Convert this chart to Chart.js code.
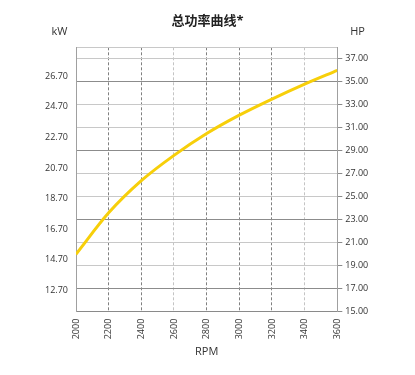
<!DOCTYPE html>
<html>
<head>
<meta charset="utf-8">
<script src="https://cdn.jsdelivr.net/npm/chart.js@4"></script>
<style>
  body { margin: 0; background: #fff; }
</style>
</head>
<body>
<canvas id="potencia" width="415" height="375"></canvas>
<script>
// dados da curva de potência
var rpm = [2000, 2200, 2400, 2600, 2800, 3000, 3200, 3400, 3600];
var hp = [20.0, 23.6, 26.4, 28.6, 30.5, 32.1, 33.5, 34.8, 36.0];
var hpTicks = [15, 17, 19, 21, 23, 25, 27, 29, 31, 33, 35, 37];
var kwTicks = [12.7, 14.7, 16.7, 18.7, 20.7, 22.7, 24.7, 26.7];

var fonte = "'Open Sans', 'Noto Sans', 'Noto Sans CJK SC', sans-serif";

// rótulos kW / HP acima dos eixos
var unidades = {
  id: 'unidades',
  afterDraw: function (chart) {
    var c = chart.ctx;
    c.save();
    c.font = '11px ' + fonte;
    c.fillStyle = '#333';
    c.textAlign = 'center';
    c.textBaseline = 'middle';
    c.fillText('kW', 59.5, 32);
    c.fillText('HP', 357.5, 32);
    c.restore();
  }
};

var ctx = potencia.getContext('2d');

var grafico = new Chart(ctx, {
  type: 'line',
  data: {
    datasets: [{
      label: 'HP',
      data: rpm.map(function (r, i) { return { x: r, y: hp[i] }; }),
      yAxisID: 'hp',
      borderColor: '#f7cf0a',
      borderWidth: 3,
      pointRadius: 0,
      cubicInterpolationMode: 'monotone',
      fill: false
    }]
  },
  options: {
    responsive: false,
    animation: false,
    layout: { padding: 0 },
    plugins: {
      legend: { display: false },
      tooltip: { enabled: false },
      title: {
        display: true,
        text: '总功率曲线*',
        color: '#222',
        font: { size: 13, weight: 'bold', family: fonte },
        padding: { top: 13.2, bottom: 18.5 }
      }
    },
    scales: {
      x: {
        type: 'linear',
        min: 2000,
        max: 3600,
        ticks: {
          stepSize: 200,
          minRotation: 90,
          maxRotation: 90,
          padding: 7,
          color: '#333',
          font: { size: 9, family: fonte },
          callback: function (v) { return String(v); }
        },
        grid: {
          drawTicks: false,
          color: function (c) {
            var v = c.tick ? c.tick.value : 0;
            if (v === 2000 || v === 3600) return 'rgba(0,0,0,0)';
            if (v === 2600 || v === 3400) return '#c4c4c4';
            return '#808080';
          }
        },
        border: { color: '#8a8a8a', dash: [3, 2], display: true },
        title: {
          display: true,
          text: 'RPM',
          color: '#333',
          font: { size: 11, family: fonte },
          padding: { top: 0, bottom: 17 }
        },
        afterFit: function (s) { s.height = 63.3; }
      },
      kw: {
        type: 'linear',
        position: 'left',
        min: 11.31,
        max: 28.59,
        afterBuildTicks: function (s) {
          s.ticks = kwTicks.map(function (v) { return { value: v }; });
        },
        ticks: {
          padding: 8,
          color: '#333',
          font: { size: 9, family: fonte },
          callback: function (v) { return v.toFixed(2); }
        },
        grid: { display: false, drawTicks: false },
        border: { display: true, color: '#a0a0a0' },
        afterFit: function (s) { s.width = 76; }
      },
      hp: {
        type: 'linear',
        position: 'right',
        min: 15,
        max: 38,
        afterBuildTicks: function (s) {
          s.ticks = hpTicks.concat([38]).map(function (v) { return { value: v }; });
        },
        ticks: {
          padding: 3,
          color: '#333',
          font: { size: 9, family: fonte },
          callback: function (v) { return v === 38 ? '' : v.toFixed(2); }
        },
        grid: {
          tickLength: 5,
          color: function (c) {
            var v = c.tick ? c.tick.value : 0;
            if (v === 15) return '#8a8a8a';
            if (v === 17 || v === 23 || v === 29 || v === 35) return '#8c8c8c';
            return '#c8c8c8';
          },
          tickColor: function (c) {
            var v = c.tick ? c.tick.value : 0;
            return v === 38 ? 'rgba(0,0,0,0)' : '#8a8a8a';
          }
        },
        border: { display: true, color: '#a0a0a0' },
        afterFit: function (s) { s.width = 77.7; }
      }
    }
  },
  plugins: [unidades]
});
</script>
</body>
</html>
